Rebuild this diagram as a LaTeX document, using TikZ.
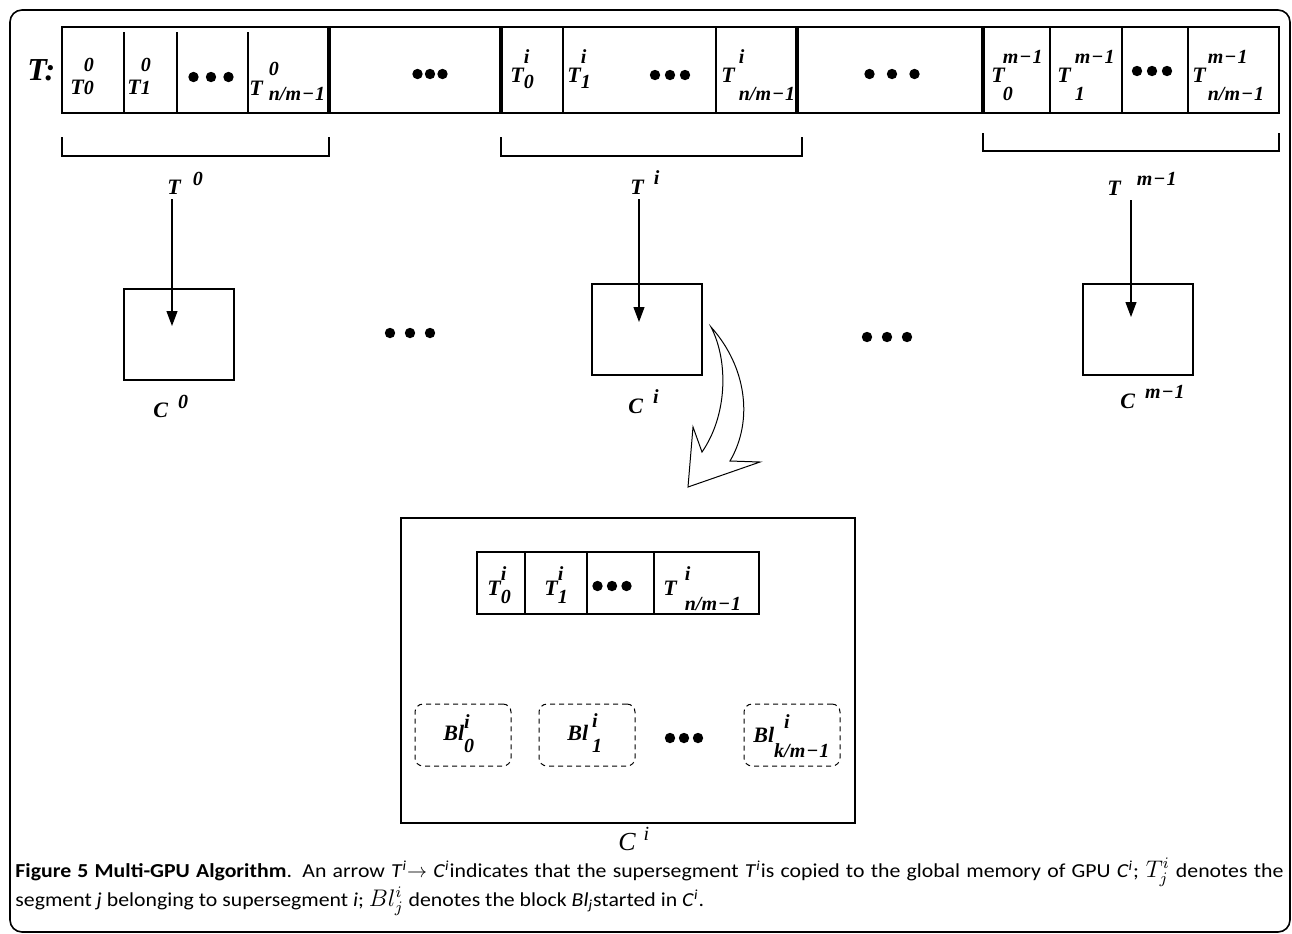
\documentclass[tikz,border=0pt]{standalone}
\usepackage{fontspec}
\usepackage{amsmath}
\setmainfont{Liberation Serif}
\newfontfamily\capfont[FakeStretch=1.1]{Carlito}
\usetikzlibrary{arrows.meta,positioning,calc}
% base, sup, sub, raise of sup, drop of sub
\newcommand{\seg}[5]{#1\begingroup\fontsize{10}{12}\selectfont
  \sbox0{#2}\sbox2{#3}%
  \rlap{\raisebox{#4}{\usebox0}}\raisebox{-#5}{\usebox2}%
  \ifdim\wd0>\wd2 \kern\dimexpr\wd0-\wd2\relax\fi\endgroup}
% base, sup, gap, raise
\newcommand{\glab}[4]{#1\kern#3\raisebox{#4}{\fontsize{10}{12}\selectfont #2}}
\newcommand{\mone}{m\kern.5pt−\kern.5pt1}

\begin{document}
\begin{tikzpicture}[
    x=0.5pt, y=-0.5pt,
    thin line/.style={line width=0.55pt},
    sep/.style={line width=2.4pt},
    lab/.style={inner sep=0pt, anchor=base west,
                font=\fontsize{11}{13}\selectfont\bfseries\itshape},
    gpu/.style={draw, line width=0.6pt, rectangle, inner sep=0pt,
                minimum width=55pt, minimum height=45.5pt},
    blk/.style={draw, line width=0.5pt, rectangle, dashed,
                dash pattern=on 2.5pt off 2pt, rounded corners=4pt,
                inner sep=0pt, minimum width=48pt, minimum height=31pt},
    arr/.style={-{Triangle[length=7.5pt,width=5.5pt]}, line width=0.55pt},
    pics/bullets/.style={code={
      \foreach \k in {-1,0,1} \fill (\k*#1,0) circle[radius=2.6pt];}}
]
  \useasboundingbox (0,0) rectangle (1292,933);

  % --- Outer frame ---
  \draw[line width=0.8pt, rounded corners=6pt] (10,10) rectangle (1290,932);

  % --- Top strip T ---
  \node[lab, font=\fontsize{16}{18}\selectfont\bfseries\itshape] (tLab) at (27,80) {T:};
  \draw[thin line] (62,27) rectangle (1279,113);
  \foreach \xx in {124,177,248} \draw[thin line] (\xx,32) -- (\xx,113);
  \foreach \xx in {563,716,1050,1122,1188} \draw[thin line] (\xx,27) -- (\xx,113);
  \foreach \xx in {329,501,797,983} \draw[sep] (\xx,27) -- (\xx,113);

  % --- Segments of T^0 ---
  \node[lab] (s00) at (70,94)  {\seg{T}{0}{0}{11.5pt}{0pt}};
  \node[lab] (s01) at (127,94) {\seg{T}{0}{1}{11.5pt}{0pt}};
  \pic at (211,77) {bullets=17.5};
  \node[lab] (s0n) at (249,95) {\seg{T\kern3pt}{0}{n/\mone}{10pt}{2.5pt}};
  \pic at (430,74) {bullets=12.5};

  % --- Segments of T^i ---
  \node[lab] (si0) at (510,82) {\seg{T}{i}{0}{9.5pt}{3pt}};
  \node[lab] (si1) at (567,82) {\seg{T}{i}{1}{9.5pt}{3pt}};
  \pic at (670,75) {bullets=15};
  \node[lab] (sin) at (721,82) {\seg{T\kern2pt}{i}{n/\mone}{9.5pt}{9pt}};
  \pic at (892,74) {bullets=22.5};

  % --- Segments of T^{m-1} ---
  \node[lab] (sm0) at (991,82)  {\seg{T\kern-1pt}{\mone}{0}{9.5pt}{9pt}};
  \node[lab] (sm1) at (1057,82) {\seg{T\kern2pt}{\mone}{1}{9.5pt}{9pt}};
  \pic at (1152,71) {bullets=15};
  \node[lab] (smn) at (1192,82) {\seg{T\kern1pt}{\mone}{n/\mone}{9.5pt}{9pt}};

  % --- Brackets under the supersegments ---
  \draw[thin line] (62,137) -- (62,156) -- (329,156) -- (329,137);
  \draw[thin line] (501,137) -- (501,156) -- (802,156) -- (802,137);
  \draw[thin line] (983,133) -- (983,151) -- (1279,151) -- (1279,133);

  \node[lab] (super0) at (167,194)  {\glab{T}{0}{6pt}{4.5pt}};
  \node[lab] (superi) at (630,194)  {\glab{T}{i}{5pt}{5pt}};
  \node[lab] (superm) at (1107,195) {\glab{T}{\mone}{8pt}{5pt}};

  % --- GPUs ---
  \node[gpu] (gpu0) at (179,334.5)  {};
  \node[gpu] (gpui) at (647,329.5)  {};
  \node[gpu] (gpum) at (1138,329.5) {};
  \node[lab] (c0) at (153,417) {\glab{C}{0}{5pt}{4.5pt}};
  \node[lab] (ci) at (628,413) {\glab{C}{i}{5pt}{5pt}};
  \node[lab] (cm) at (1120,408) {\glab{C}{\mone}{5pt}{5pt}};
  \pic at (410,333) {bullets=20};
  \pic at (887,337) {bullets=20};

  % --- Copy arrows T^x -> C^x ---
  \coordinate (tip0) at (172,326);
  \coordinate (tipi) at (639,322);
  \coordinate (tipm) at (1131,317);
  \draw[arr] (tip0 |- super0.base) ++(0,5) -- (tip0);
  \draw[arr] (tipi |- superi.base) ++(0,5) -- (tipi);
  \draw[arr] (tipm |- superm.base) ++(0,5) -- (tipm);

  % --- Big curved arrow into C^i detail ---
  \draw[line width=0.5pt] (711,327) .. controls (729,362) and (727,416) .. (702,452)
    -- (693,427) -- (688,487) -- (760,462) -- (730,461)
    .. controls (754,420) and (746,366) .. (711,327) -- cycle;

  % --- Detail of C^i ---
  \node[gpu, minimum width=227pt, minimum height=152.5pt] (gpuBig) at (628,670.5) {};
  \draw[thin line] (477,552) rectangle (759,614);
  \foreach \xx in {525,587,654} \draw[thin line] (\xx,552) -- (\xx,614);
  \node[lab] (di0) at (487,595) {\seg{T}{i}{0}{7.5pt}{4pt}};
  \node[lab] (di1) at (544,595) {\seg{T}{i}{1}{7.5pt}{4pt}};
  \pic at (612,586) {bullets=14.5};
  \node[lab] (din) at (663,595) {\seg{T\kern4pt}{i}{n/\mone}{7.5pt}{7.5pt}};

  \node[blk] (bl0) at (463,735) {};
  \node[blk] (bl1) at (587,735) {};
  \node[blk] (blk) at (792,735) {};
  \node[lab] (bl0t) at (443,740) {\seg{Bl}{i}{0}{6pt}{6pt}};
  \node[lab] (bl1t) at (567,740) {\seg{Bl\kern2pt}{i}{1}{6.5pt}{6pt}};
  \pic at (684,738) {bullets=14};
  \node[lab] (blkt) at (753,742) {\seg{Bl}{\kern5pt i}{k/\mone}{7pt}{7.5pt}};

  \node[inner sep=0pt, anchor=base west, font=\fontsize{13}{15}\selectfont\itshape]
    (cBig) at (618,850) {\glab{C}{i}{4pt}{5pt}};

  % --- Caption ---
  \node[inner sep=0pt, anchor=north west, text width=634pt, align=justify,
        font=\capfont\fontsize{9.9}{14.5}\selectfont] (caption) at (15,858) {%
    {\bfseries Figure 5 Multi-GPU Algorithm}. An arrow \textit{T}\textsuperscript{\textit{i}}$\rightarrow$
    \textit{C}\textsuperscript{\textit{i}}indicates that the supersegment
    \textit{T}\textsuperscript{\textit{i}}is copied to the global memory of GPU
    \textit{C}\textsuperscript{\textit{i}}; {\large$T^i_j$} denotes the\linebreak
    segment \textit{j} belonging to supersegment \textit{i}; {\large$Bl^i_j$} denotes
    the block \textit{Bl}\textsubscript{\textit{j}}started in
    \textit{C}\textsuperscript{\textit{i}}.};
\end{tikzpicture}
\end{document}
